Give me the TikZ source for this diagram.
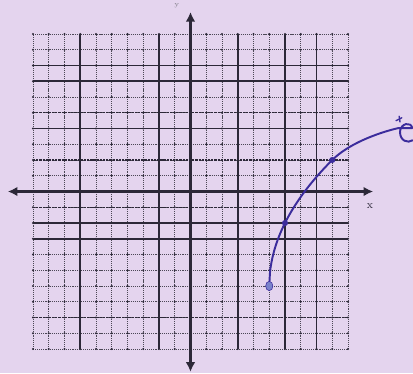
\documentclass[tikz,border=0pt]{standalone}
\usetikzlibrary{arrows.meta}
\definecolor{lavender}{HTML}{E4D4EE}
\definecolor{gridink}{HTML}{2C2838}
\definecolor{penblue}{HTML}{3B2C9C}
\definecolor{dotblue}{HTML}{7A82CC}

\begin{document}
\begin{tikzpicture}[x=0.4cm, y=0.4cm,
  minorline/.style={gridink!85, line width=0.7pt, dash pattern=on 0.8pt off 0.7pt},
  dashline/.style={gridink, line width=1pt, dash pattern=on 1.6pt off 0.7pt},
  majorline/.style={gridink, line width=1.1pt},
  axisline/.style={gridink, line width=1.6pt, {Latex[length=7pt,width=7pt]}-{Latex[length=7pt,width=7pt]}},
  pen/.style={penblue, line width=1.4pt, line cap=round, line join=round}]

% paper
\fill[lavender] (-12.095,-11.524) rectangle (14.127,12.159);
\useasboundingbox (-12.095,-11.524) rectangle (14.127,12.159);

% dotted grid with printed ticks
\foreach \k in {-10,...,10} {
  \draw[minorline] (\k,-10) -- (\k,10);
  \draw[minorline] (-10,\k) -- (10,\k);
}
\foreach \i in {-10,...,10}
  \foreach \j in {-10,...,10}
    \fill[gridink] (\i,\j) circle (0.8pt);

% darker printed lines
\foreach \k in {-7,-2,3,6,8}
  \draw[majorline] (\k,-10) -- (\k,10);
\foreach \k in {8,7,4,-2,-3}
  \draw[majorline] (-10,\k) -- (10,\k);
\foreach \k in {5,2,-1,-8}
  \draw[dashline] (-10,\k) -- (10,\k);

% axes
\coordinate (xl) at (-11.6,0);
\coordinate (xr) at (11.6,0);
\coordinate (yb) at (0,-11.45);
\coordinate (yt) at (0,11.4);
\draw[axisline] (xl) -- (xr);
\draw[axisline] (yb) -- (yt);
\node[font=\footnotesize, gridink] (xlab) at (11.4,-0.92) {x};
\node[font=\tiny, gridink!60] (ylab) at (-0.86,11.8) {y};

% sketched graph
\draw[pen] plot[domain=5:9, samples=80, smooth] (\x, {4*sqrt(\x-5)-6})
  .. controls (10,3) and (11.8,3.7) .. (13.2,4.03)
  -- (14.08,4.03)
  .. controls (14.0,4.45) and (13.35,4.35) .. (13.3,3.8)
  .. controls (13.3,3.2) and (13.8,3.05) .. (14.1,3.25);
\draw[pen, line width=1pt] (13.05,4.5) -- (13.42,4.68);
\draw[pen, line width=1pt] (13.25,4.78) -- (13.3,4.42);

% plotted points
\fill[dotblue, draw=penblue, line width=0.4pt] (5,-6) ellipse (2.6pt and 3.4pt);
\fill[penblue] (6,-2) circle (2.2pt);
\fill[penblue] (9,2) circle (2.2pt);
\end{tikzpicture}
\end{document}
